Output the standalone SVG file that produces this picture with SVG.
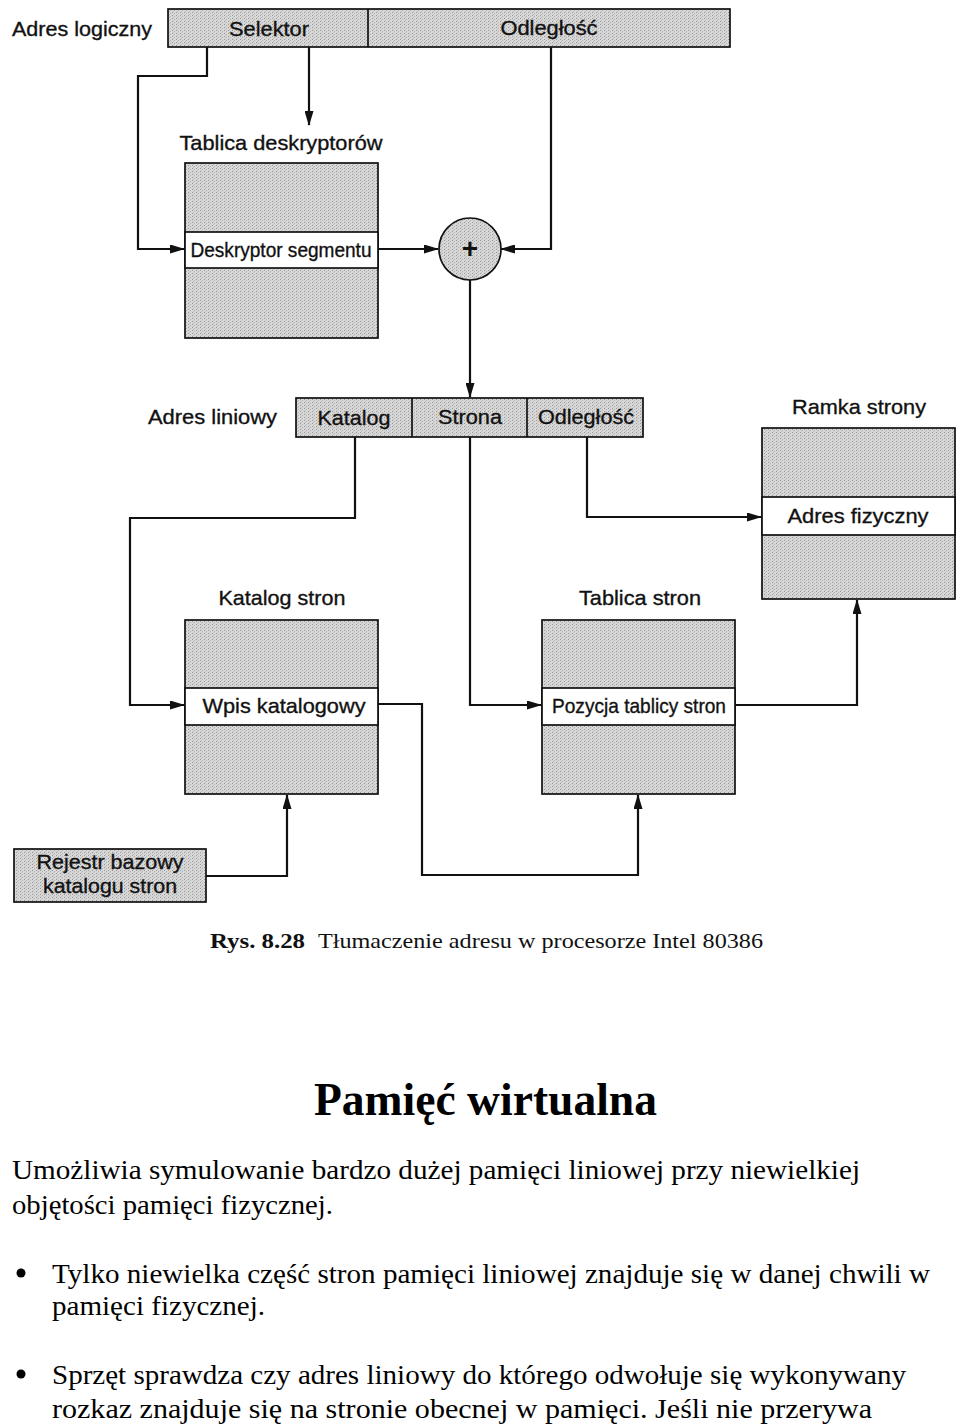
<svg xmlns="http://www.w3.org/2000/svg" width="960" height="1425" viewBox="0 0 960 1425">
<style>
.lbl{font-family:"Liberation Sans",Arial,sans-serif;font-size:21px;fill:#111;text-anchor:middle;stroke:#111;stroke-width:0.35}
.lbll{font-family:"Liberation Sans",Arial,sans-serif;font-size:21px;fill:#111;stroke:#111;stroke-width:0.35}
.box{fill:url(#tex);stroke:#111;stroke-width:1.7}
.row{fill:#fff;stroke:#111;stroke-width:1.7}
.con{fill:none;stroke:#111;stroke-width:2.2}
.arr{marker-end:url(#ah)}
.body{font-family:"Liberation Serif","Times New Roman",serif;font-size:28px;fill:#000}
</style>
<defs>
<pattern id="tex" width="4" height="3" patternUnits="userSpaceOnUse">
<rect width="4" height="3" fill="#d8d8d8"/>
<rect x="0" y="0" width="1" height="1" fill="#979797"/>
<rect x="2" y="1" width="1" height="1" fill="#b0b0b0"/>
<rect x="1" y="2" width="1" height="1" fill="#c0c0c0"/>
</pattern>
<marker id="ah" markerWidth="15" markerHeight="9" refX="14" refY="4.5" orient="auto" markerUnits="userSpaceOnUse">
<path d="M0,0 L15,4.5 L0,9 z" fill="#111"/>
</marker>
</defs>
<rect width="960" height="1425" fill="#fff"/>

<g id="connectors">
<path class="con arr" d="M207,47 V76 H138 V249 H184"/>
<path class="con arr" d="M309,47 V125"/>
<path class="con arr" d="M551,47 V249 H501"/>
<path class="con arr" d="M378,249 H438"/>
<path class="con arr" d="M470,280 V397"/>
<path class="con arr" d="M355,437 V518 H130 V705 H184"/>
<path class="con arr" d="M470,437 V705 H541"/>
<path class="con arr" d="M587,437 V517 H761"/>
<path class="con arr" d="M735,705 H857 V600"/>
<path class="con arr" d="M378,704 H422 V875 H638 V795"/>
<path class="con arr" d="M206,876 H287 V795"/>
</g>

<g id="adres-logiczny">
<text class="lbll" x="12" y="36" textLength="140" lengthAdjust="spacingAndGlyphs">Adres logiczny</text>
<rect class="box" x="168" y="9" width="562" height="38"/>
<line x1="368" y1="9" x2="368" y2="47" stroke="#111" stroke-width="1.7"/>
<text class="lbl" x="269" y="36" textLength="80" lengthAdjust="spacingAndGlyphs">Selektor</text>
<text class="lbl" x="549" y="35" textLength="97" lengthAdjust="spacingAndGlyphs">Odległość</text>
</g>

<g id="tablica-deskryptorow">
<text class="lbl" x="281" y="150" textLength="203" lengthAdjust="spacingAndGlyphs">Tablica deskryptorów</text>
<rect class="box" x="185" y="163" width="193" height="175"/>
<rect class="row" x="185" y="232" width="193" height="36"/>
<text class="lbl" x="281" y="257" textLength="181" lengthAdjust="spacingAndGlyphs">Deskryptor segmentu</text>
</g>

<g id="sumator">
<circle cx="470" cy="249" r="31" fill="url(#tex)" stroke="#111" stroke-width="1.7"/>
<text x="470" y="258" font-family="Liberation Sans,Arial,sans-serif" font-size="28" font-weight="bold" text-anchor="middle" fill="#111">+</text>
</g>

<g id="adres-liniowy">
<text class="lbll" x="148" y="424" textLength="129" lengthAdjust="spacingAndGlyphs">Adres liniowy</text>
<rect class="box" x="296" y="398" width="347" height="39"/>
<line x1="412" y1="398" x2="412" y2="437" stroke="#111" stroke-width="1.7"/>
<line x1="527" y1="398" x2="527" y2="437" stroke="#111" stroke-width="1.7"/>
<text class="lbl" x="354" y="425" textLength="73" lengthAdjust="spacingAndGlyphs">Katalog</text>
<text class="lbl" x="470" y="424" textLength="64" lengthAdjust="spacingAndGlyphs">Strona</text>
<text class="lbl" x="586" y="424" textLength="96" lengthAdjust="spacingAndGlyphs">Odległość</text>
</g>

<g id="ramka-strony">
<text class="lbl" x="859" y="414" textLength="134" lengthAdjust="spacingAndGlyphs">Ramka strony</text>
<rect class="box" x="762" y="428" width="193" height="171"/>
<rect class="row" x="762" y="497" width="193" height="38"/>
<text class="lbl" x="858" y="523" textLength="141" lengthAdjust="spacingAndGlyphs">Adres fizyczny</text>
</g>

<g id="katalog-stron">
<text class="lbl" x="282" y="605" textLength="127" lengthAdjust="spacingAndGlyphs">Katalog stron</text>
<rect class="box" x="185" y="620" width="193" height="174"/>
<rect class="row" x="185" y="688" width="193" height="37"/>
<text class="lbl" x="284" y="713" textLength="163" lengthAdjust="spacingAndGlyphs">Wpis katalogowy</text>
</g>

<g id="tablica-stron">
<text class="lbl" x="640" y="605" textLength="122" lengthAdjust="spacingAndGlyphs">Tablica stron</text>
<rect class="box" x="542" y="620" width="193" height="174"/>
<rect class="row" x="542" y="688" width="193" height="37"/>
<text class="lbl" x="639" y="713" textLength="174" lengthAdjust="spacingAndGlyphs">Pozycja tablicy stron</text>
</g>

<g id="rejestr-bazowy">
<rect class="box" x="14" y="849" width="192" height="53"/>
<text class="lbl" x="110" y="869" textLength="147" lengthAdjust="spacingAndGlyphs">Rejestr bazowy</text>
<text class="lbl" x="110" y="893" textLength="134" lengthAdjust="spacingAndGlyphs">katalogu stron</text>
</g>

<g id="podpis">
<text x="210" y="948" font-family="Liberation Serif,Times New Roman,serif" font-size="22" font-weight="bold" fill="#111" textLength="95" lengthAdjust="spacingAndGlyphs">Rys. 8.28</text>
<text x="318" y="948" font-family="Liberation Serif,Times New Roman,serif" font-size="22" fill="#111" textLength="445" lengthAdjust="spacingAndGlyphs">Tłumaczenie adresu w procesorze Intel 80386</text>
</g>

<g id="tekst">
<text x="314" y="1115" font-family="Liberation Serif,Times New Roman,serif" font-size="46" font-weight="bold" fill="#000" textLength="343" lengthAdjust="spacingAndGlyphs">Pamięć wirtualna</text>
<text class="body" x="12" y="1179" textLength="848" lengthAdjust="spacingAndGlyphs">Umożliwia symulowanie bardzo dużej pamięci liniowej przy niewielkiej</text>
<text class="body" x="12" y="1214" textLength="321" lengthAdjust="spacingAndGlyphs">objętości pamięci fizycznej.</text>
<circle cx="21" cy="1273" r="4.5" fill="#000"/>
<text class="body" x="52" y="1283" textLength="878" lengthAdjust="spacingAndGlyphs">Tylko niewielka część stron pamięci liniowej znajduje się w danej chwili w</text>
<text class="body" x="52" y="1315" textLength="213" lengthAdjust="spacingAndGlyphs">pamięci fizycznej.</text>
<circle cx="21" cy="1374" r="4.5" fill="#000"/>
<text class="body" x="52" y="1384" textLength="854" lengthAdjust="spacingAndGlyphs">Sprzęt sprawdza czy adres liniowy do którego odwołuje się wykonywany</text>
<text class="body" x="52" y="1418" textLength="820" lengthAdjust="spacingAndGlyphs">rozkaz znajduje się na stronie obecnej w pamięci. Jeśli nie przerywa</text>
</g>
</svg>
